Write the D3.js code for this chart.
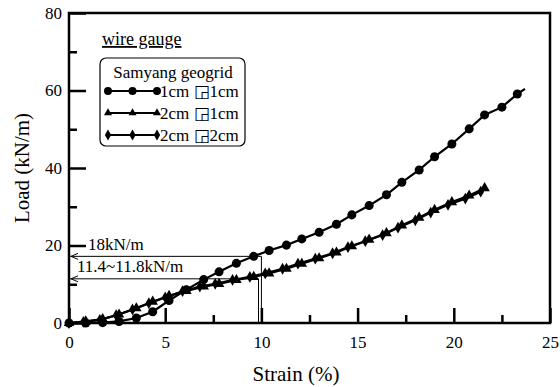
<!DOCTYPE html>
<html>
<head>
<meta charset="utf-8">
<script src="https://cdn.jsdelivr.net/npm/d3@7.9.0/dist/d3.min.js"></script>
<style>
  body { margin: 0; background: #fff; }
  svg { display: block; }
</style>
</head>
<body>
<svg id="chart" width="560" height="387"></svg>
<script>
// data (strain %, load kN/m)
const strain = [0, 0.87, 1.75, 2.6, 3.5, 4.35, 5.2, 6.1, 7.0, 7.8, 8.7, 9.6, 10.4, 11.3,
  12.1, 13.0, 13.9, 14.7, 15.6, 16.5, 17.3, 18.2, 19.0, 19.9, 20.8, 21.6, 22.5, 23.3];
const load1x1 = [0, 0, 0.1, 0.4, 1.3, 2.9, 5.8, 8.6, 11.2, 13.2, 15.4, 17.2, 18.7, 20.1,
  21.7, 23.4, 25.5, 27.9, 30.3, 33.1, 36.3, 39.5, 42.9, 46.2, 50.1, 53.7, 55.7, 59.1];
const load2x1 = [0, 0.4, 1.0, 2.2, 3.8, 5.5, 7.0, 8.3, 9.4, 10.1, 11.1, 11.9, 12.8, 14.0,
  15.3, 16.7, 18.2, 19.8, 21.5, 23.2, 25.2, 27.2, 29.2, 31.2, 32.9, 34.8];
const strain2x2 = [0, 0.75, 1.6, 2.45, 3.3, 4.15, 5.0, 5.9, 6.8, 7.6, 8.5, 9.4, 10.2, 11.1,
  11.9, 12.8, 13.7, 14.5, 15.4, 16.3, 17.1, 18.0, 18.8, 19.7, 20.6, 21.4];
const load2x2 = [0, 0.3, 0.8, 2.0, 3.5, 5.1, 6.6, 8.2, 9.4, 10.1, 11.1, 11.9, 12.8, 14.0,
  15.3, 16.6, 18.0, 19.6, 21.1, 22.7, 24.6, 26.5, 28.5, 30.5, 32.1, 33.9];
const xTicks = [0, 5, 10, 15, 20, 25];
const yTicks = [0, 20, 40, 60, 80];
const legendLabels = ["1cm \u25F21cm", "2cm \u25F21cm", "2cm \u25F22cm"];

const series = [
  { xs: strain, ys: load1x1, shape: "circle" },
  { xs: strain, ys: load2x1, shape: "triangle" },
  { xs: strain2x2, ys: load2x2, shape: "diamond" }
];

// pick the first serif face that is really installed
function pickFont(list) {
  const ctx = document.createElement("canvas").getContext("2d");
  const probe = "Strain Load geogrid 0123456789";
  ctx.font = "20px monospace";
  const base = ctx.measureText(probe).width;
  for (const f of list) {
    ctx.font = `20px "${f}", monospace`;
    if (Math.abs(ctx.measureText(probe).width - base) > 0.5) return `"${f}"`;
  }
  return "serif";
}
const serif = pickFont(["Liberation Serif", "Tinos", "Times New Roman", "Times", "DejaVu Serif", "Noto Serif"]);

const svg = d3.select("#chart").attr("font-family", serif);
const x = d3.scaleLinear().domain([0, 25]).range([69, 550]);
const y = d3.scaleLinear().domain([0, 80]).range([323, 13]);

const symbols = {
  circle: d3.symbol().type(d3.symbolCircle).size(64),
  triangle: d3.symbol().type(d3.symbolTriangle).size(48),
  diamond: d3.symbol().type(d3.symbolDiamond).size(40)
};

// annotation lines (drawn below the curves)
const ann = svg.append("g").attr("stroke", "#000").attr("stroke-width", 1).attr("fill", "none");
const annRows = [{ load: 17.2, at: 10 }, { load: 11.4, at: 9.85 }];
annRows.forEach(a => {
  ann.append("path")
    .attr("d", `M${x(0) + 1},${y(a.load)}H${x(a.at)}V${y(0)}`);
  ann.append("path")
    .attr("d", `M${x(0) + 9},${y(a.load) - 3}L${x(0) + 2},${y(a.load)}L${x(0) + 9},${y(a.load) + 3}`);
});
svg.append("text").attr("x", 88).attr("y", 250).attr("font-size", 17).text("18kN/m");
svg.append("text").attr("x", 77).attr("y", 272).attr("font-size", 17).text("11.4~11.8kN/m");

// curves
const line = d3.line().x(d => x(d[0])).y(d => y(d[1]));
series.forEach(s => {
  const pts = s.xs.map((v, i) => [v, s.ys[i]]).filter(p => p[1] !== undefined);
  svg.append("path").datum(pts).attr("d", line)
    .attr("fill", "none").attr("stroke", "#000").attr("stroke-width", 2.2);
  svg.append("g").selectAll("path").data(pts).join("path")
    .attr("transform", d => `translate(${x(d[0])},${y(d[1])})`)
    .attr("d", symbols[s.shape]).attr("fill", "#000");
});
// short tail past the last circle
svg.append("path")
  .attr("d", `M${x(23.3)},${y(59.1)}L${x(23.7)},${y(60.4)}`)
  .attr("stroke", "#000").attr("stroke-width", 2.2);

// frame and axes
svg.append("rect").attr("x", x(0)).attr("y", y(80))
  .attr("width", x(25) - x(0)).attr("height", y(0) - y(80))
  .attr("fill", "none").attr("stroke", "#000").attr("stroke-width", 2.5);

const xAxis = svg.append("g").attr("transform", `translate(0,${y(0)})`)
  .call(d3.axisBottom(x).tickValues(xTicks).tickSize(-15).tickPadding(13).tickFormat(d3.format("d")));
const xMinor = svg.append("g").attr("transform", `translate(0,${y(0)})`)
  .call(d3.axisBottom(x).tickValues([2.5, 7.5, 12.5, 17.5, 22.5]).tickSize(-8).tickFormat(""));
const yAxis = svg.append("g").attr("transform", `translate(${x(0)},0)`)
  .call(d3.axisLeft(y).tickValues(yTicks).tickSize(-17).tickPadding(7).tickFormat(d3.format("d")));
const yMinor = svg.append("g").attr("transform", `translate(${x(0)},0)`)
  .call(d3.axisLeft(y).tickValues([10, 30, 50, 70]).tickSize(-8).tickFormat(""));

[xAxis, xMinor, yAxis, yMinor].forEach(g => {
  g.select(".domain").remove();
  g.attr("font-family", serif);
  g.selectAll("line").attr("stroke-width", 2.5);
  g.selectAll("text").attr("font-size", 17).attr("fill", "#000");
});

svg.append("text").attr("x", 296).attr("y", 381).attr("text-anchor", "middle")
  .attr("font-size", 21).text("Strain (%)");
svg.append("text").attr("transform", "translate(29,168) rotate(-90)").attr("text-anchor", "middle")
  .attr("font-size", 21).text("Load (kN/m)");

// legend
svg.append("text").attr("x", 102).attr("y", 45).attr("font-size", 18)
  .attr("text-decoration", "underline").text("wire gauge");
svg.append("rect").attr("x", 100).attr("y", 58).attr("width", 145).attr("height", 88)
  .attr("rx", 6).attr("fill", "#fff").attr("stroke", "#000").attr("stroke-width", 1.2);
svg.append("text").attr("x", 173).attr("y", 78).attr("text-anchor", "middle")
  .attr("font-size", 17).text("Samyang geogrid");

const legendSym = {
  circle: d3.symbol().type(d3.symbolCircle).size(50),
  triangle: d3.symbol().type(d3.symbolTriangle).size(28),
  diamond: d3.symbol().type(d3.symbolDiamond).size(34)
};
series.forEach((s, i) => {
  const cy = 91 + i * 22;
  const row = svg.append("g");
  row.append("line").attr("x1", 108).attr("x2", 157).attr("y1", cy).attr("y2", cy)
    .attr("stroke", "#000").attr("stroke-width", 2);
  row.selectAll("path").data([108, 132.5, 157]).join("path")
    .attr("transform", d => `translate(${d},${cy})`)
    .attr("d", legendSym[s.shape]).attr("fill", "#000");
  row.append("text").attr("x", 160).attr("y", cy + 6).attr("font-size", 17)
    .text(legendLabels[i]);
});
</script>
</body>
</html>
